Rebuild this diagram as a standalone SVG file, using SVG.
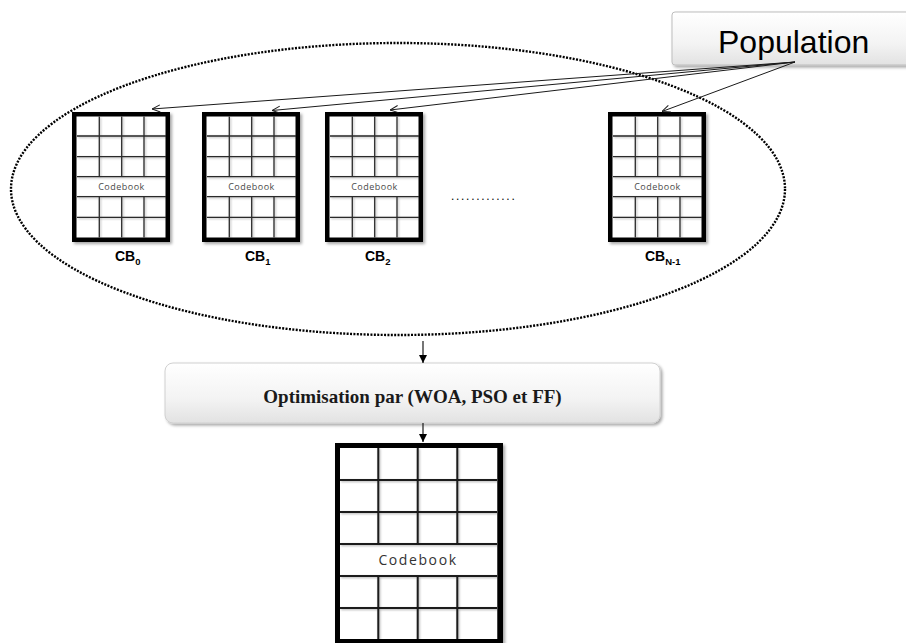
<svg xmlns="http://www.w3.org/2000/svg" xmlns:xlink="http://www.w3.org/1999/xlink" width="906" height="643" viewBox="0 0 906 643">
  <style>
    .frame { fill: #ffffff; stroke: #000000; stroke-width: 4.5; }
    .grid { stroke: #2a2a2a; stroke-width: 1.3; fill: none; }
    .gridBig { stroke: #1a1a1a; stroke-width: 2; fill: none; }
    .cbText { font-family: "Open Sans", "Noto Sans", sans-serif; font-size: 9px; letter-spacing: 0.5px; fill: #4a4a4a; text-anchor: middle; }
    .cbBigText { font-family: "Open Sans", "Noto Sans", sans-serif; font-size: 14px; letter-spacing: 1.6px; fill: #333333; text-anchor: middle; }
    .label { font-family: "Liberation Sans", Arial, sans-serif; font-weight: bold; font-size: 14px; fill: #000000; }
    .sub { font-size: 9.5px; }
    .link { stroke: #1a1a1a; stroke-width: 1; fill: none; }
    .flow { stroke: #1a1a1a; stroke-width: 1.2; fill: none; }
  </style>
  <defs>
    <filter id="shadow" x="-10%" y="-10%" width="130%" height="130%">
      <feDropShadow dx="2" dy="2" stdDeviation="1.8" flood-color="#000000" flood-opacity="0.35"/>
    </filter>
    <filter id="soft" x="-10%" y="-10%" width="130%" height="130%">
      <feDropShadow dx="1" dy="1" stdDeviation="1.2" flood-color="#000000" flood-opacity="0.3"/>
    </filter>
    <linearGradient id="panel" x1="0" y1="0" x2="0" y2="1">
      <stop offset="0" stop-color="#ffffff"/>
      <stop offset="0.6" stop-color="#f3f3f3"/>
      <stop offset="1" stop-color="#e2e2e2"/>
    </linearGradient>
    <marker id="openHead" viewBox="0 0 10 10" refX="10" refY="5" markerWidth="9" markerHeight="9" markerUnits="userSpaceOnUse" orient="auto">
      <path d="M1,1 L10,5 L1,9" fill="none" stroke="#1a1a1a" stroke-width="1.1"/>
    </marker>
    <marker id="solidHead" viewBox="0 0 10 10" refX="10" refY="5" markerWidth="8" markerHeight="8" markerUnits="userSpaceOnUse" orient="auto">
      <path d="M0,0 L10,5 L0,10 Z" fill="#000000"/>
    </marker>
    <!-- small codebook: 98 x 130, four columns, six rows, the fourth row left open for the caption -->
    <symbol id="smallBook" viewBox="0 0 98 130" width="98" height="130" overflow="visible">
      <rect class="frame" x="2.25" y="2.25" width="93.5" height="125.5" filter="url(#shadow)"/>
      <g class="grid" filter="url(#soft)">
        <path d="M5,24 H94 M5,44.7 H94 M5,64.7 H94 M5,84.7 H94 M5,105.3 H94"/>
        <path d="M27.3,4.5 V64.7 M49.7,4.5 V64.7 M72,4.5 V64.7"/>
        <path d="M27.3,84.7 V125.5 M49.7,84.7 V125.5 M72,84.7 V125.5"/>
      </g>
    </symbol>
  </defs>

  <rect x="0" y="0" width="906" height="643" fill="#ffffff"/>

  <!-- dotted boundary round the population -->
  <ellipse id="populationSet" cx="398" cy="189" rx="387" ry="146" fill="none" stroke="#000000" stroke-width="2.4" stroke-dasharray="2 1.4"/>

  <g id="population">
    <rect x="672" y="12" width="260" height="53" rx="3" fill="url(#panel)" stroke="#bdbdbd" stroke-width="1" filter="url(#shadow)"/>
    <text x="718" y="53" font-family="Liberation Sans, Arial, sans-serif" font-size="32" fill="#000000">Population</text>
  </g>

  <g id="cb0">
    <use xlink:href="#smallBook" x="72" y="112"/>
    <text class="cbText" x="121.5" y="190">Codebook</text>
    <text class="label" x="115" y="260.5">CB<tspan class="sub" dy="4">0</tspan></text>
  </g>
  <g id="cb1">
    <use xlink:href="#smallBook" x="202" y="112"/>
    <text class="cbText" x="251.5" y="190">Codebook</text>
    <text class="label" x="245" y="260.5">CB<tspan class="sub" dy="4">1</tspan></text>
  </g>
  <g id="cb2">
    <use xlink:href="#smallBook" x="325" y="112"/>
    <text class="cbText" x="374.5" y="190">Codebook</text>
    <text class="label" x="365" y="260.5">CB<tspan class="sub" dy="4">2</tspan></text>
  </g>
  <g id="ellipsis">
    <text x="451" y="200" font-family="Liberation Sans, Arial, sans-serif" font-size="12" letter-spacing="1.7" fill="#000000">.............</text>
  </g>
  <g id="cbN1">
    <use xlink:href="#smallBook" x="608" y="112"/>
    <text class="cbText" x="657.5" y="190">Codebook</text>
    <text class="label" x="645" y="260.5">CB<tspan class="sub" dy="4">N-1</tspan></text>
  </g>

  <g id="optimisation">
    <rect x="165" y="363" width="495" height="60" rx="8" fill="url(#panel)" stroke="#d0d0d0" stroke-width="1" filter="url(#shadow)"/>
    <text x="412.5" y="403" text-anchor="middle" font-family="Liberation Serif, 'Times New Roman', serif" font-weight="bold" font-size="19" fill="#1a1a1a">Optimisation par (WOA, PSO et FF)</text>
  </g>

  <g id="bestCodebook">
    <rect x="337.5" y="445.5" width="163" height="196" fill="#ffffff" stroke="#000000" stroke-width="5" filter="url(#shadow)"/>
    <g class="gridBig" filter="url(#soft)">
      <path d="M340,480 H498 M340,512 H498 M340,544 H498 M340,576 H498 M340,608 H498"/>
      <path d="M378.3,448 V544 M417.7,448 V544 M457.3,448 V544"/>
      <path d="M378.3,576 V639 M417.7,576 V639 M457.3,576 V639"/>
    </g>
    <line x1="497.5" y1="448" x2="497.5" y2="639" stroke="#444" stroke-width="1"/>
    <text class="cbBigText" x="418" y="565">Codebook</text>
  </g>

  <g id="connectors">
    <line class="link" x1="795" y1="62" x2="152" y2="109" marker-end="url(#openHead)"/>
    <line class="link" x1="795" y1="62" x2="272" y2="110.5" marker-end="url(#openHead)"/>
    <line class="link" x1="795" y1="62" x2="390" y2="110" marker-end="url(#openHead)"/>
    <line class="link" x1="795" y1="62" x2="662" y2="111.5" marker-end="url(#openHead)"/>
    <line class="flow" x1="423" y1="341" x2="423" y2="363" marker-end="url(#solidHead)"/>
    <line class="flow" x1="423" y1="423" x2="423" y2="442" marker-end="url(#solidHead)"/>
  </g>
</svg>
